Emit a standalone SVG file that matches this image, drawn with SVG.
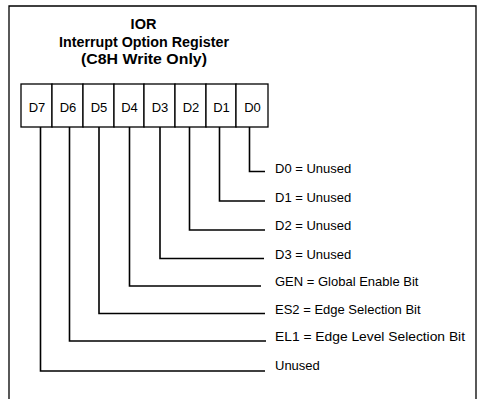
<svg xmlns="http://www.w3.org/2000/svg" width="480" height="399" viewBox="0 0 480 399">
<style>
.frame{fill:none;stroke:#000;stroke-width:1.3}
.cell{fill:#fff;stroke:#000;stroke-width:1.3}
.conn{fill:none;stroke:#000;stroke-width:1.6}
.title{font-family:"Liberation Sans",Arial,sans-serif;font-weight:bold;font-size:14.5px;text-anchor:middle;fill:#000}
.bit{font-family:"Liberation Sans",Arial,sans-serif;font-size:13px;text-anchor:middle;fill:#000}
.lbl{font-family:"Liberation Sans",Arial,sans-serif;font-size:13px;fill:#000}
</style>
<rect width="480" height="399" fill="#fff"/>
<path class="frame" d="M9,399 V6 H476 V399"/>
<g id="title">
<text class="title" x="143.5" y="28.5">IOR</text>
<text class="title" x="144" y="47" textLength="170" lengthAdjust="spacingAndGlyphs">Interrupt Option Register</text>
<text class="title" x="144" y="64" textLength="126" lengthAdjust="spacingAndGlyphs">(C8H Write Only)</text>
</g>
<g id="register">
<g id="d7"><rect class="cell" x="21" y="84" width="31" height="43"/><text class="bit" x="37" y="111.5">D7</text></g>
<g id="d6"><rect class="cell" x="52" y="84" width="31" height="43"/><text class="bit" x="68" y="111.5">D6</text></g>
<g id="d5"><rect class="cell" x="83" y="84" width="31" height="43"/><text class="bit" x="99" y="111.5">D5</text></g>
<g id="d4"><rect class="cell" x="114" y="84" width="30" height="43"/><text class="bit" x="129.5" y="111.5">D4</text></g>
<g id="d3"><rect class="cell" x="144" y="84" width="31" height="43"/><text class="bit" x="160" y="111.5">D3</text></g>
<g id="d2"><rect class="cell" x="175" y="84" width="31" height="43"/><text class="bit" x="191" y="111.5">D2</text></g>
<g id="d1"><rect class="cell" x="206" y="84" width="30" height="43"/><text class="bit" x="221.5" y="111.5">D1</text></g>
<g id="d0"><rect class="cell" x="236" y="84" width="32" height="43"/><text class="bit" x="252.5" y="111.5">D0</text></g>
</g>
<g id="connectors">
<path class="conn" d="M249.5,127 V171.5 H265"/>
<path class="conn" d="M219.5,127 V201 H265"/>
<path class="conn" d="M189.5,127 V230 H265"/>
<path class="conn" d="M160,127 V258.5 H264"/>
<path class="conn" d="M129.5,127 V286 H261"/>
<path class="conn" d="M99,127 V313.5 H265"/>
<path class="conn" d="M69.5,127 V341 H266"/>
<path class="conn" d="M40.5,127 V371 H265"/>
</g>
<g id="labels">
<text class="lbl" x="275" y="172.5">D0 = Unused</text>
<text class="lbl" x="275" y="201.5">D1 = Unused</text>
<text class="lbl" x="275" y="230">D2 = Unused</text>
<text class="lbl" x="275" y="258.5">D3 = Unused</text>
<text class="lbl" x="275" y="286">GEN = Global Enable Bit</text>
<text class="lbl" x="275" y="313.5">ES2 = Edge Selection Bit</text>
<text class="lbl" x="275" y="341" textLength="190" lengthAdjust="spacingAndGlyphs">EL1 = Edge Level Selection Bit</text>
<text class="lbl" x="275" y="370">Unused</text>
</g>
</svg>
